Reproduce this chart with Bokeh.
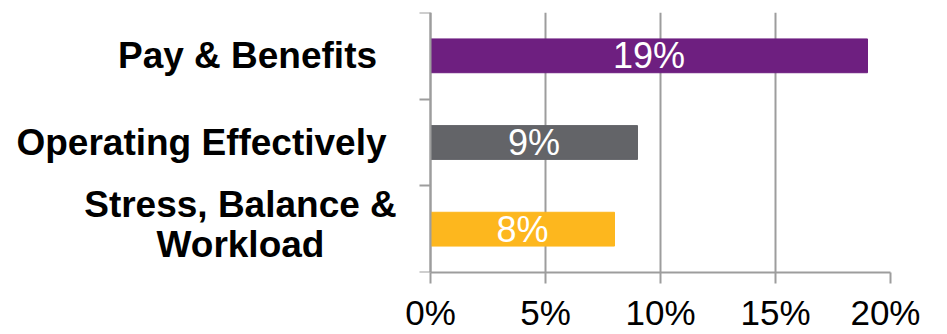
from bokeh.plotting import figure
from bokeh.models import Range1d, FixedTicker, PrintfTickFormatter, ColumnDataSource, LinearAxis
from bokeh.core.properties import value
from bokeh.embed import file_html
from bokeh.resources import INLINE

# ---- data ----
categories = ["Pay & Benefits", "Operating Effectively", "Stress, Balance &\nWorkload"]
values = [19, 9, 8]
value_labels = ["19%", "9%", "8%"]
bar_colors = ["#6E1F80", "#636468", "#FDB71E"]
x_ticks = [0, 5, 10, 15, 20]
x_max = 20

# ---- style / layout ----
label_x_offsets = [-183, -229, -190]
label_y_offsets = [0, 0, -5]
FONT = "Liberation Sans"
GRID = "#9d9d9d"
PX_PER_UNIT = 23.0
LEFT_PAD_PX = 426  # room for category labels inside the frame

n = len(categories)
ypos = [n - i - 0.5 for i in range(n)]

p = figure(frame_width=int(LEFT_PAD_PX + x_max * PX_PER_UNIT), frame_height=260,
           output_backend="svg", toolbar_location=None,
           x_range=Range1d(-LEFT_PAD_PX / PX_PER_UNIT, x_max), y_range=Range1d(0, n),
           y_axis_location=None,
           min_border_left=4, min_border_top=12, min_border_right=30, min_border_bottom=0)
p.outline_line_color = None
p.background_fill_color = "white"
p.border_fill_color = "white"

bars = ColumnDataSource(dict(y=ypos, right=values, color=bar_colors,
                             mid=[v / 2 for v in values], lab=value_labels))
p.hbar(y="y", left=0, right="right", height=0.39, color="color", source=bars)
p.text(x="mid", y="y", text="lab", source=bars, text_color="white",
       text_font=value(FONT), text_font_size="36px",
       text_align="center", text_baseline="middle")

cats = ColumnDataSource(dict(x=[0] * n, y=ypos, t=categories,
                             xo=label_x_offsets, yo=label_y_offsets))
p.text(x="x", y="y", text="t", source=cats, x_offset="xo", y_offset="yo",
       text_color="black", text_font=value(FONT), text_font_style="bold",
       text_font_size="37px", text_align="center", text_baseline="middle",
       text_line_height=0.98)

# x axis
xa = p.xaxis[0]
xa.ticker = FixedTicker(ticks=x_ticks)
xa.bounds = (0, x_max)
xa.formatter = PrintfTickFormatter(format="%d%%")
xa.axis_line_color = GRID
xa.axis_line_width = 2
xa.major_tick_line_color = GRID
xa.major_tick_line_width = 2
xa.major_tick_out = 11
xa.major_tick_in = 0
xa.minor_tick_line_color = None
xa.major_label_text_font = FONT
xa.major_label_text_font_size = "35px"
xa.major_label_text_color = "black"
xa.major_label_standoff = 9

# y axis placed at x = 0
ya = LinearAxis(fixed_location=0, ticker=FixedTicker(ticks=list(range(n + 1))))
ya.axis_line_color = GRID
ya.axis_line_width = 2
ya.major_tick_line_color = GRID
ya.major_tick_line_width = 2
ya.major_tick_out = 11
ya.major_tick_in = 0
ya.minor_tick_line_color = None
ya.major_label_overrides = {i: "" for i in range(n + 1)}
p.add_layout(ya, "left")

p.xgrid.ticker = FixedTicker(ticks=x_ticks)
p.xgrid.grid_line_color = GRID
p.xgrid.grid_line_width = 2
p.ygrid.grid_line_color = None

open("out.html", "w").write(file_html(p, INLINE))
